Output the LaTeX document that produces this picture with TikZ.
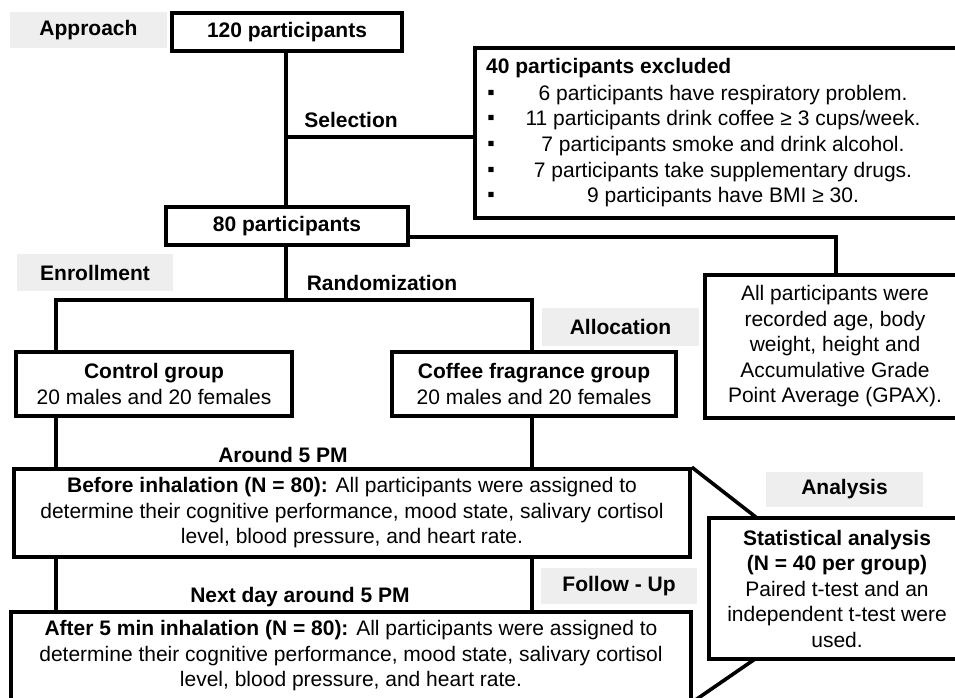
\documentclass[tikz,border=0pt]{standalone}
\usepackage{fontspec}
\setmainfont{Liberation Sans}
\usepackage{tikz}

\tikzset{
    box/.style={draw, line width=3.6pt, rectangle, align=center, inner sep=0pt, font=\fontsize{21}{25.5}\selectfont},
    stage/.style={fill=gray!13, rectangle, inner sep=0pt, font=\fontsize{21}{25.5}\selectfont\bfseries},
    lbl/.style={inner sep=0pt, align=center, font=\fontsize{21}{25.5}\selectfont},
    link/.style={line width=3.6pt},
}

\begin{document}
\begin{tikzpicture}[x=1pt, y=-1pt]
    \useasboundingbox (0,0) rectangle (955,697);
    \clip (0,0) rectangle (955,697);

    % stage labels
    \node[stage, minimum width=157pt, minimum height=36pt] at (88.5, 30) (approach) {Approach};
    \node[stage, minimum width=156pt, minimum height=37pt] at (95, 272.5) (enrol) {Enrollment};
    \node[stage, minimum width=157pt, minimum height=38pt] at (620.5, 327) (alloc) {Allocation};
    \node[stage, minimum width=157pt, minimum height=35pt] at (844.5, 489.5) (analysis) {Analysis};
    \node[stage, minimum width=156pt, minimum height=36pt] at (619, 586) (follow) {Follow - Up};

    % boxes
    \node[box, minimum width=230pt, minimum height=38pt] at (287, 32) (n120) {\bfseries 120 participants};
    \node[box, minimum width=490pt, minimum height=170pt] at (720, 133) (excl) {};
    \node[box, minimum width=242pt, minimum height=38pt] at (287, 226) (n80) {\bfseries 80 participants};
    \node[box, minimum width=260pt, minimum height=143pt] at (835, 346.5) (gpax) {All participants were\\recorded age, body\\weight, height and\\Accumulative Grade\\Point Average (GPAX).};
    \node[box, minimum width=276pt, minimum height=64pt] at (154, 384) (ctrl) {\textbf{Control group}\\20 males and 20 females};
    \node[box, minimum width=284pt, minimum height=64pt] at (534, 384) (cof) {\textbf{Coffee fragrance group}\\20 males and 20 females};
    \node[box, minimum width=676pt, minimum height=88pt] at (352, 513) (before) {\textbf{Before inhalation (N = 80):} All participants were assigned to\\determine their cognitive performance, mood state, salivary cortisol\\level, blood pressure, and heart rate.};
    \node[box, minimum width=256pt, minimum height=141pt] at (837, 588.5) (stats) {\textbf{Statistical analysis}\\\textbf{(N = 40 per group)}\\Paired t-test and an\\independent t-test were\\used.};
    \node[box, minimum width=680pt, minimum height=88pt] at (351, 656) (after) {\textbf{After 5 min inhalation (N = 80):} All participants were assigned to\\determine their cognitive performance, mood state, salivary cortisol\\level, blood pressure, and heart rate.};

    % excluded list
    \node[lbl, anchor=west, font=\fontsize{21}{25.5}\selectfont\bfseries] at (486, 68) (exclTitle) {40 participants excluded};
    \node[lbl] at (491, 95) (dot1) {▪};
    \node[lbl] at (491, 120) (dot2) {▪};
    \node[lbl] at (491, 146) (dot3) {▪};
    \node[lbl] at (491, 172) (dot4) {▪};
    \node[lbl] at (491, 197) (dot5) {▪};
    \node[lbl] at (723, 95) (item1) {6 participants have respiratory problem.};
    \node[lbl] at (723, 120) (item2) {11 participants drink coffee ≥ 3 cups/week.};
    \node[lbl] at (723, 146) (item3) {7 participants smoke and drink alcohol.};
    \node[lbl] at (723, 172) (item4) {7 participants take supplementary drugs.};
    \node[lbl] at (723, 197) (item5) {9 participants have BMI ≥ 30.};

    % step labels
    \node[lbl, font=\fontsize{21}{25.5}\selectfont\bfseries] at (351, 120) (selText) {Selection};
    \node[lbl, font=\fontsize{21}{25.5}\selectfont\bfseries] at (382, 283) (rndText) {Randomization};
    \node[lbl, font=\fontsize{21}{25.5}\selectfont\bfseries] at (283, 455) (time1) {Around 5 PM};
    \node[lbl, font=\fontsize{21}{25.5}\selectfont\bfseries] at (300, 597) (time2) {Next day around 5 PM};

    \coordinate (sel) at (286, 137);
    \coordinate (gpaxTurn) at (836, 237);
    \coordinate (rndL) at (56, 300);
    \coordinate (rndR) at (532, 300);
    \coordinate (callTop) at (757, 518);
    \coordinate (callBot) at (755, 659);

    \draw[link] (n120.south -| sel) -- (n80.north -| sel);
    \draw[link] (sel) -- (sel -| excl.west);
    \draw[link] (n80.east |- gpaxTurn) -- (gpaxTurn) -- (gpax.north -| gpaxTurn);
    \draw[link] (n80.south -| sel) -- (sel |- rndL);
    \draw[link] (ctrl.north -| rndL) -- (rndL) -- (rndR) -- (cof.north -| rndR);
    \draw[link] (ctrl.south -| rndL) -- (before.north -| rndL);
    \draw[link] (cof.south -| rndR) -- (before.north -| rndR);
    \draw[link] (before.south -| rndL) -- (after.north -| rndL);
    \draw[link] (before.south -| rndR) -- (after.north -| rndR);
    \draw[link] (before.north east) -- (callTop);
    \draw[link] (after.south east) -- (callBot);
\end{tikzpicture}
\end{document}
